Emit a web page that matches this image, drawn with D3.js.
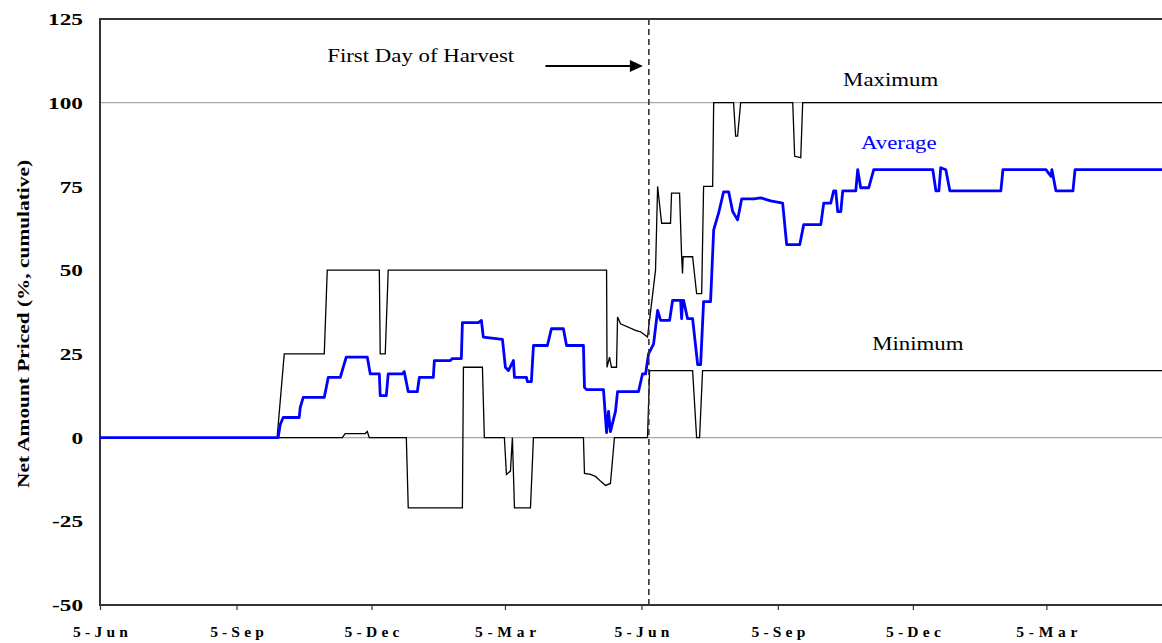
<!DOCTYPE html>
<html>
<head>
<meta charset="utf-8">
<script src="https://cdn.jsdelivr.net/npm/d3@7"></script>
<style>
  html, body { margin: 0; padding: 0; background: #fff; }
  svg { display: block; }
  text { font-family: "Liberation Serif", "Times New Roman", serif; }
</style>
</head>
<body>
<svg id="chart" width="1162" height="643"></svg>
<script>
// days counted from 5-Jun of the first year
const startDate = Date.UTC(2001, 5, 5);
const endDay = 716.6;
const harvestDay = 370;

const tickDates = ["2001-06-05", "2001-09-05", "2001-12-05", "2002-03-05",
                   "2002-06-05", "2002-09-05", "2002-12-05", "2003-03-05"];
const yTicks = [-50, -25, 0, 25, 50, 75, 100, 125];
const gridValues = [0, 100];

const maxDays = [0, 119.4, 124.2, 151.2, 153.2, 188.3, 188.9, 192.3, 194.3, 341.5, 341.8, 343.5, 344.8,
  348.2, 348.9, 350.9, 361, 364.4, 369.1, 374.5, 375.9, 378.6, 384.6, 385.3, 390.7, 392.1, 392.7, 393.1,
  399.5, 402.2, 405.6, 406.9, 413, 413.7, 427.1, 428.5, 429.8, 431.9, 467, 468.3, 472.4, 473.7, 716.6];
const maxVals = [0, 0, 25, 25, 50, 50, 25, 25, 50, 50, 21, 24, 21,
  21, 36, 34, 32, 31.6, 30, 50, 75, 64, 64, 73, 73, 54, 49, 54,
  54, 43, 43, 75, 75, 100, 100, 90, 90, 100, 100, 84, 83.6, 100, 100];

const minDays = [0, 163.3, 165.3, 178.8, 180.2, 181.5, 206.5, 207.8, 244.3, 245, 257.8, 259.1, 272.6,
  274, 276.7, 278, 279.4, 290.2, 292.2, 325.9, 326.6, 330.7, 334, 337.4, 340.8, 344.1, 346.8,
  369.1, 370.5, 399.5, 402.2, 404.2, 406.2, 716.6];
const minVals = [0, 0, 1.2, 1.2, 1.8, 0, 0, -21, -21, 21, 21, 0, 0,
  -11, -10, 0, -21, -21, 0, 0, -10.7, -11, -11.6, -13, -14.3, -13.7, 0,
  0, 20, 20, 0, 0, 20, 20];

const avgDays = [0, 120.1, 121.5, 123.5, 134.3, 135, 137, 151.2, 153.9, 162, 163.3, 166, 180.2, 182.2,
  188.3, 188.9, 193, 194.3, 203.8, 205.1, 207.8, 213.9, 215.3, 224.7, 225.4, 236.2, 237.5, 243.6,
  244.3, 255.1, 257.1, 258.4, 271.3, 273.3, 275.3, 278.7, 279.4, 287.5, 288.1, 290.8, 292.2, 301.6,
  304.3, 312.4, 314.5, 325.9, 326.6, 328, 339.4, 341.5, 342.8, 344.1, 347.5, 348.9, 363, 365.7,
  367.8, 369.8, 373.2, 375.9, 377.9, 384, 386, 391.4, 392.1, 392.7, 393.4, 396.1, 399.5, 402.9,
  404.9, 406.9, 411.6, 413.7, 417, 420.4, 423.8, 426.5, 429.8, 432.6, 440.6, 445.4, 452.1, 460.2,
  462.9, 471.7, 474.4, 485.9, 487.9, 492.6, 494.6, 496, 497.3, 499.4, 500.7, 509.5, 510.8, 512.8,
  518.2, 521.6, 561.4, 563.5, 565.5, 566.8, 570.2, 572.9, 607.3, 608.7, 637.7, 641.1, 641.7, 644.4,
  655.9, 657.3, 716.6];
const avgVals = [0, 0, 3.9, 6, 6, 9, 12, 12, 18, 18, 20, 24, 24, 19,
  19, 12.5, 12.5, 19, 19, 19.7, 13.7, 13.7, 18, 18, 23, 23, 23.6, 23.6,
  34.3, 34.3, 35, 30, 29.3, 21, 20, 23, 18, 18, 16.7, 16.7, 27.5, 27.5,
  32.5, 32.5, 27.5, 27.5, 15, 14.3, 14.3, 1.5, 7.8, 1.8, 7.8, 13.7, 13.7, 19,
  19, 25, 28, 38, 35, 35, 41, 41, 35.5, 41, 41, 35.5, 35.5, 21.8,
  21.8, 40.6, 40.6, 62, 67, 73.4, 73.4, 67.5, 65, 71.3, 71.3, 71.6, 70.7, 70,
  57.6, 57.6, 63.6, 63.6, 70, 70, 73.7, 73.7, 67.5, 67.5, 73.7, 73.7, 80, 74.6,
  74.6, 80, 80, 73.7, 73.7, 80.6, 80, 73.7, 73.7, 80, 80, 78, 80, 73.7,
  73.7, 80, 80];

const seriesLabels = [
  { text: "Maximum", day: 533, value: 105, color: "#000" },
  { text: "Average", day: 538.5, value: 86.2, color: "#0000ff" },
  { text: "Minimum", day: 551.3, value: 26.3, color: "#000" }
];

const toDate = d => new Date(startDate + d * 864e5);
const parse = d3.utcParse("%Y-%m-%d");
const fmt = d3.utcFormat("%-d-%b");

const svg = d3.select("#chart");
const margin = { top: 19, left: 100, bottom: 38 };
const W = 1163, H = 643;

const x = d3.scaleUtc()
  .domain([toDate(0), toDate(endDay)])
  .range([margin.left, W]);
const y = d3.scaleLinear()
  .domain([-50, 125])
  .range([H - margin.bottom, margin.top]);

// stretch text horizontally like the original picture
function stretch(sel, k, adjust) {
  sel.each(function () {
    const w = this.getComputedTextLength();
    d3.select(this).attr("textLength", w * k).attr("lengthAdjust", adjust);
  });
}

// grid lines at 0 and 100
svg.append("g").selectAll("line")
  .data(gridValues)
  .enter().append("line")
  .attr("x1", margin.left).attr("x2", W)
  .attr("y1", d => y(d)).attr("y2", d => y(d))
  .style("stroke", "#a6a6a6")
  .style("stroke-width", 1.2);

// frame
svg.append("rect")
  .attr("x", margin.left).attr("y", margin.top)
  .attr("width", W - margin.left + 2).attr("height", y(-50) - margin.top)
  .style("fill", "none")
  .style("stroke", "#333")
  .style("stroke-width", 2);

const line = d3.line().x(d => x(toDate(d[0]))).y(d => y(d[1]));
const zip = (a, b) => a.map((d, i) => [d, b[i]]);

svg.append("path").datum(zip(minDays, minVals))
  .attr("d", line)
  .style("fill", "none").style("stroke", "#000").style("stroke-width", 1.3);
svg.append("path").datum(zip(maxDays, maxVals))
  .attr("d", line)
  .style("fill", "none").style("stroke", "#000").style("stroke-width", 1.3);
svg.append("path").datum(zip(avgDays, avgVals))
  .attr("d", line)
  .style("fill", "none").style("stroke", "#0000ff").style("stroke-width", 2.8)
  .style("stroke-linejoin", "round");

// first day of harvest
const xh = x(toDate(harvestDay));
svg.append("line")
  .attr("x1", xh).attr("x2", xh)
  .attr("y1", margin.top).attr("y2", y(-50))
  .style("stroke", "#333")
  .style("stroke-width", 1.6)
  .style("stroke-dasharray", "6,4");

const harvestText = svg.append("text")
  .attr("x", x(toDate(153.2))).attr("y", y(112.2))
  .style("font-size", "19.5px")
  .text("First Day of Harvest");
stretch(harvestText, 1.17, "spacingAndGlyphs");

const ay = y(111);
svg.append("line")
  .attr("x1", x(toDate(300.3))).attr("x2", xh - 16)
  .attr("y1", ay).attr("y2", ay)
  .style("stroke", "#000").style("stroke-width", 2);
svg.append("path")
  .attr("d", `M${xh - 6},${ay} L${xh - 19},${ay - 6} L${xh - 19},${ay + 6} Z`)
  .style("fill", "#000");

// series labels
const lbl = svg.append("g").selectAll("text")
  .data(seriesLabels)
  .enter().append("text")
  .attr("x", d => x(toDate(d.day)))
  .attr("y", d => y(d.value))
  .attr("text-anchor", "middle")
  .style("font-size", "19.5px")
  .style("fill", d => d.color)
  .text(d => d.text);
stretch(lbl, 1.17, "spacingAndGlyphs");

// axes
const xAxis = svg.append("g")
  .attr("transform", `translate(0,${y(-50)})`)
  .call(d3.axisBottom(x)
    .tickValues(tickDates.map(parse))
    .tickFormat(fmt)
    .tickSize(5)
    .tickPadding(16));
xAxis.select(".domain").remove();
xAxis.selectAll(".tick line").style("stroke", "#333").style("stroke-width", 1.2);
xAxis.selectAll("text")
  .style("font-family", '"Liberation Serif", "Times New Roman", serif')
  .style("font-size", "15.5px")
  .style("font-weight", "bold")
  .style("fill", "#000");
stretch(xAxis.selectAll("text"), 1.45, "spacing");

const yAxis = svg.append("g")
  .attr("transform", `translate(${margin.left},0)`)
  .call(d3.axisLeft(y).tickValues(yTicks).tickFormat(d => String(d)).tickSize(0).tickPadding(17));
yAxis.select(".domain").remove();
yAxis.selectAll("text")
  .style("font-family", '"Liberation Serif", "Times New Roman", serif')
  .style("font-size", "17.5px")
  .style("font-weight", "bold")
  .style("fill", "#000");
stretch(yAxis.selectAll("text"), 1.33, "spacingAndGlyphs");

svg.append("text")
  .attr("transform", "translate(29,324) rotate(-90)")
  .attr("text-anchor", "middle")
  .style("font-size", "17.5px")
  .style("font-weight", "bold")
  .attr("textLength", 328)
  .attr("lengthAdjust", "spacingAndGlyphs")
  .text("Net Amount Priced (%, cumulative)");
</script>
</body>
</html>
